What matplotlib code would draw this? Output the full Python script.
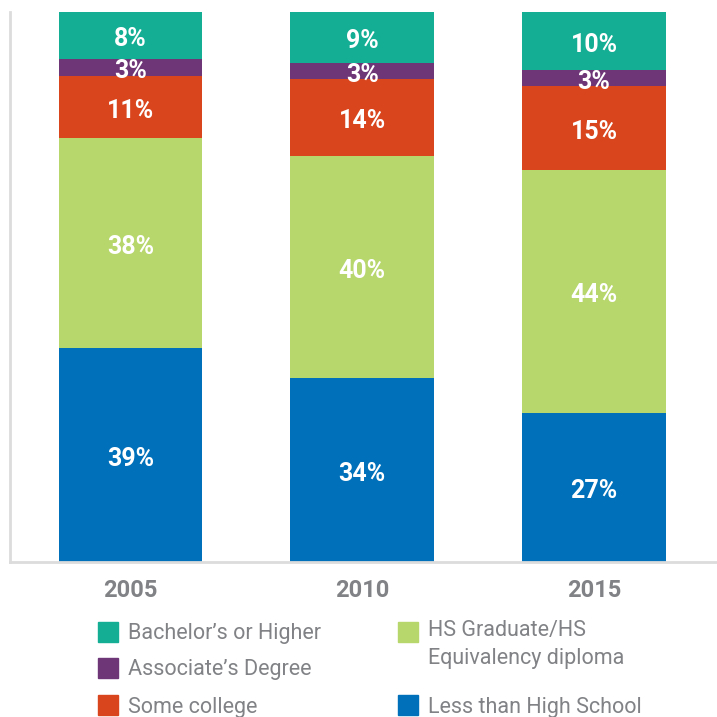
import matplotlib
matplotlib.use("Agg")
import matplotlib.pyplot as plt
from matplotlib.patches import Rectangle
import numpy as np

years = ["2005", "2010", "2015"]
# segment shares
less_than_hs = [38.9, 33.5, 27.1]
hs_grad = [38.2, 40.4, 44.2]
some_college = [11.3, 14.0, 15.3]
associates = [3.1, 2.9, 2.9]
bachelors = [8.5, 9.3, 10.5]
# percentages printed on the bars
less_than_hs_lbl = [39, 34, 27]
hs_grad_lbl = [38, 40, 44]
some_college_lbl = [11, 14, 15]
associates_lbl = [3, 3, 3]
bachelors_lbl = [8, 9, 10]

series_names = ["Less than High School", "HS Graduate/HS\nEquivalency diploma",
                "Some college", "Associate\u2019s Degree", "Bachelor\u2019s or Higher"]
series_values = [less_than_hs, hs_grad, some_college, associates, bachelors]
series_labels = [less_than_hs_lbl, hs_grad_lbl, some_college_lbl, associates_lbl, bachelors_lbl]
colors = ["#0070BA", "#B7D66C", "#D9451D", "#6E3577", "#14AE94"]

plt.rcParams['font.family'] = ['Roboto', 'DejaVu Sans']

fig = plt.figure(figsize=(7.17, 7.17), dpi=100)
ax = fig.add_axes([10/717, 1 - 562/717, 1 - 10/717, 550/717])

x = np.arange(len(years))
bottom = np.zeros(len(years))
for vals, lbls, col in zip(series_values, series_labels, colors):
    vals = np.array(vals, dtype=float)
    ax.bar(x, vals, bottom=bottom, width=0.62, color=col, edgecolor='none')
    for xi, b, v, l in zip(x, bottom, vals, lbls):
        ax.annotate(f"{l}%", xy=(xi, b + v / 2), xytext=(0, -4),
                    textcoords='offset pixels', ha='center', va='center',
                    color='white', fontsize=18, fontweight='bold')
    bottom += vals

ax.set_xlim(-0.52, 2.53)
ax.set_ylim(0, 100)
ax.set_yticks([])
ax.set_xticks(x)
ax.set_xticklabels(years, fontsize=17, fontweight='bold', color='#808285')
ax.tick_params(axis='x', length=0, pad=12)
for s in ['top', 'right']:
    ax.spines[s].set_visible(False)
for s in ['left', 'bottom']:
    ax.spines[s].set_color('#dcdcdc')
    ax.spines[s].set_linewidth(2)

# Legend drawn manually (two columns)
W, H = 717, 717
def legend_item(px, py, color, label):
    fig.patches.append(Rectangle((px / W, 1 - (py + 10) / H), 20 / W, 20 / H,
                                 transform=fig.transFigure, color=color))
    fig.text((px + 30) / W, 1 - (py + 2) / H, label, ha='left', va='center',
             fontsize=15.5, color='#808285')

legend_item(98, 632, colors[4], series_names[4])
legend_item(98, 668, colors[3], series_names[3])
legend_item(98, 705, colors[2], series_names[2])
fig.patches.append(Rectangle((398 / W, 1 - 642 / H), 20 / W, 20 / H,
                             transform=fig.transFigure, color=colors[1]))
fig.text(428 / W, 1 - 620 / H, series_names[1], ha='left', va='top',
         fontsize=15.5, color='#808285', linespacing=1.42)
legend_item(398, 705, colors[0], series_names[0])

fig.savefig("out.png", dpi=100)
